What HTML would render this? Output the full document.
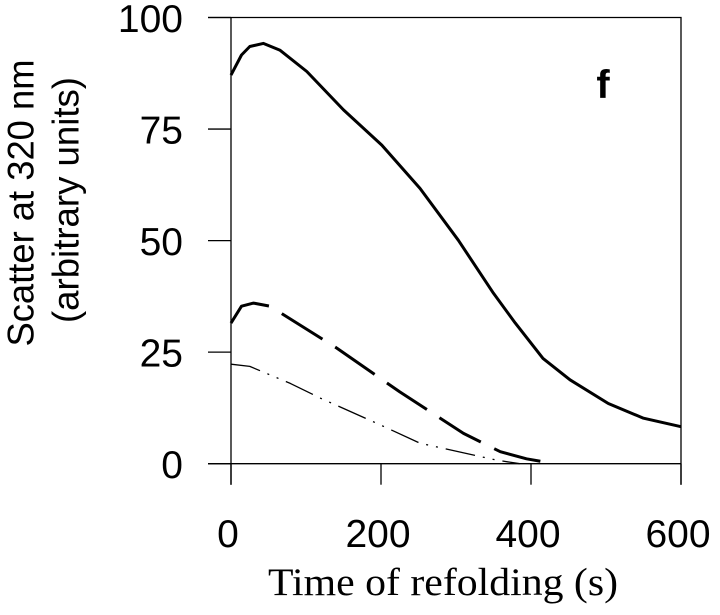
<!DOCTYPE html>
<html><head><meta charset="utf-8">
<style>
html,body{margin:0;padding:0;background:#fff;}
svg{display:block;}
.tk{font-family:"Liberation Sans",Arial,sans-serif;font-size:39px;fill:#000;}
.yt{font-family:"Liberation Sans",Arial,sans-serif;font-size:37px;fill:#000;}
</style></head>
<body>
<svg width="720" height="615" viewBox="0 0 720 615" id="chart">
<text class="yt" x="21" y="203" text-anchor="middle" dominant-baseline="central" textLength="287" lengthAdjust="spacingAndGlyphs" transform="rotate(-90 21 203)">Scatter at 320 nm</text>
<text class="yt" x="66" y="200" text-anchor="middle" dominant-baseline="central" textLength="246" lengthAdjust="spacingAndGlyphs" transform="rotate(-90 66 200)">(arbitrary units)</text>
<text x="443" y="595" text-anchor="middle" textLength="350" lengthAdjust="spacingAndGlyphs" style="font-family:'Liberation Serif',serif;font-size:39px">Time of refolding (s)</text>
<text x="603" y="98" text-anchor="middle" style="font-family:'Liberation Sans',sans-serif;font-size:40px;font-weight:bold">f</text>
<g id="axes"></g>
<g id="series"></g>
</svg>
<script>
const xTicks=[0,200,400,600];
const yTicks=[0,25,50,75,100];
const solidX=[0,14,25,43,65,101,150,201,252,303,350,379,416,452,503,550,600];
const solidY=[87.1,91.6,93.5,94.2,92.7,87.9,79.3,71.4,61.7,50.1,38.2,31.5,23.6,18.8,13.5,10.2,8.3];
const dashX=[0,14,30,52,141,225,310,359,394,428];
const dashY=[31.5,35.3,36.0,35.3,25.9,16.1,6.8,2.7,1.1,0.1];
const dotX=[0,25,79,119,199,252,354,385];
const dotY=[22.3,21.8,18.0,14.7,8.7,4.6,0.8,0];
const X0=231,X1=681,Y0=463.7,Y1=17.5;
const sx=v=>X0+(v/600)*(X1-X0);
const sy=v=>Y0-(v/100)*(Y0-Y1);
const NS='http://www.w3.org/2000/svg';
const axes=document.getElementById('axes');
const series=document.getElementById('series');
function mk(tag,attrs,parent){const e=document.createElementNS(NS,tag);for(const k in attrs)e.setAttribute(k,attrs[k]);parent.appendChild(e);return e;}
const frame=mk('path',{d:`M208 ${Y1} H${X1} V${Y0+21} M${X0} ${Y1} V${Y0+21} M208 ${Y0} H${X1}`,fill:'none',stroke:'#000','stroke-width':1.3},axes);


yTicks.forEach(v=>{
  const l=mk('line',{x1:208,x2:X0,y1:sy(v),y2:sy(v),stroke:'#000','stroke-width':1.3},axes);
  
  
  const t=mk('text',{x:183,y:sy(v)+14.5,'text-anchor':'end',class:'tk'},axes);
  t.textContent=v;
  
  
});
xTicks.forEach(v=>{
  const l=mk('line',{x1:sx(v),x2:sx(v),y1:Y0,y2:Y0+21,stroke:'#000','stroke-width':1.3},axes);
  
  
  const t=mk('text',{x:sx(v)-3,y:547,'text-anchor':'middle',class:'tk'},axes);
  t.textContent=v;
  
  
});
function line(xs,ys,w,dash,name){
  const d=xs.map((x,i)=>(i?'L':'M')+sx(x).toFixed(1)+' '+sy(ys[i]).toFixed(1)).join(' ');
  const p=mk('path',{d:d,fill:'none',stroke:'#000','stroke-width':w,'stroke-linejoin':'round'},series);
  if(dash)p.setAttribute('stroke-dasharray',dash);
  
  
}
line(solidX,solidY,3,null,'series-solid');
line(dashX,dashY,3,'48 15','series-dashed');
line(dotX,dotY,1.3,'30 8 2 8 2 8','series-dash-dot');
</script>
</body></html>
